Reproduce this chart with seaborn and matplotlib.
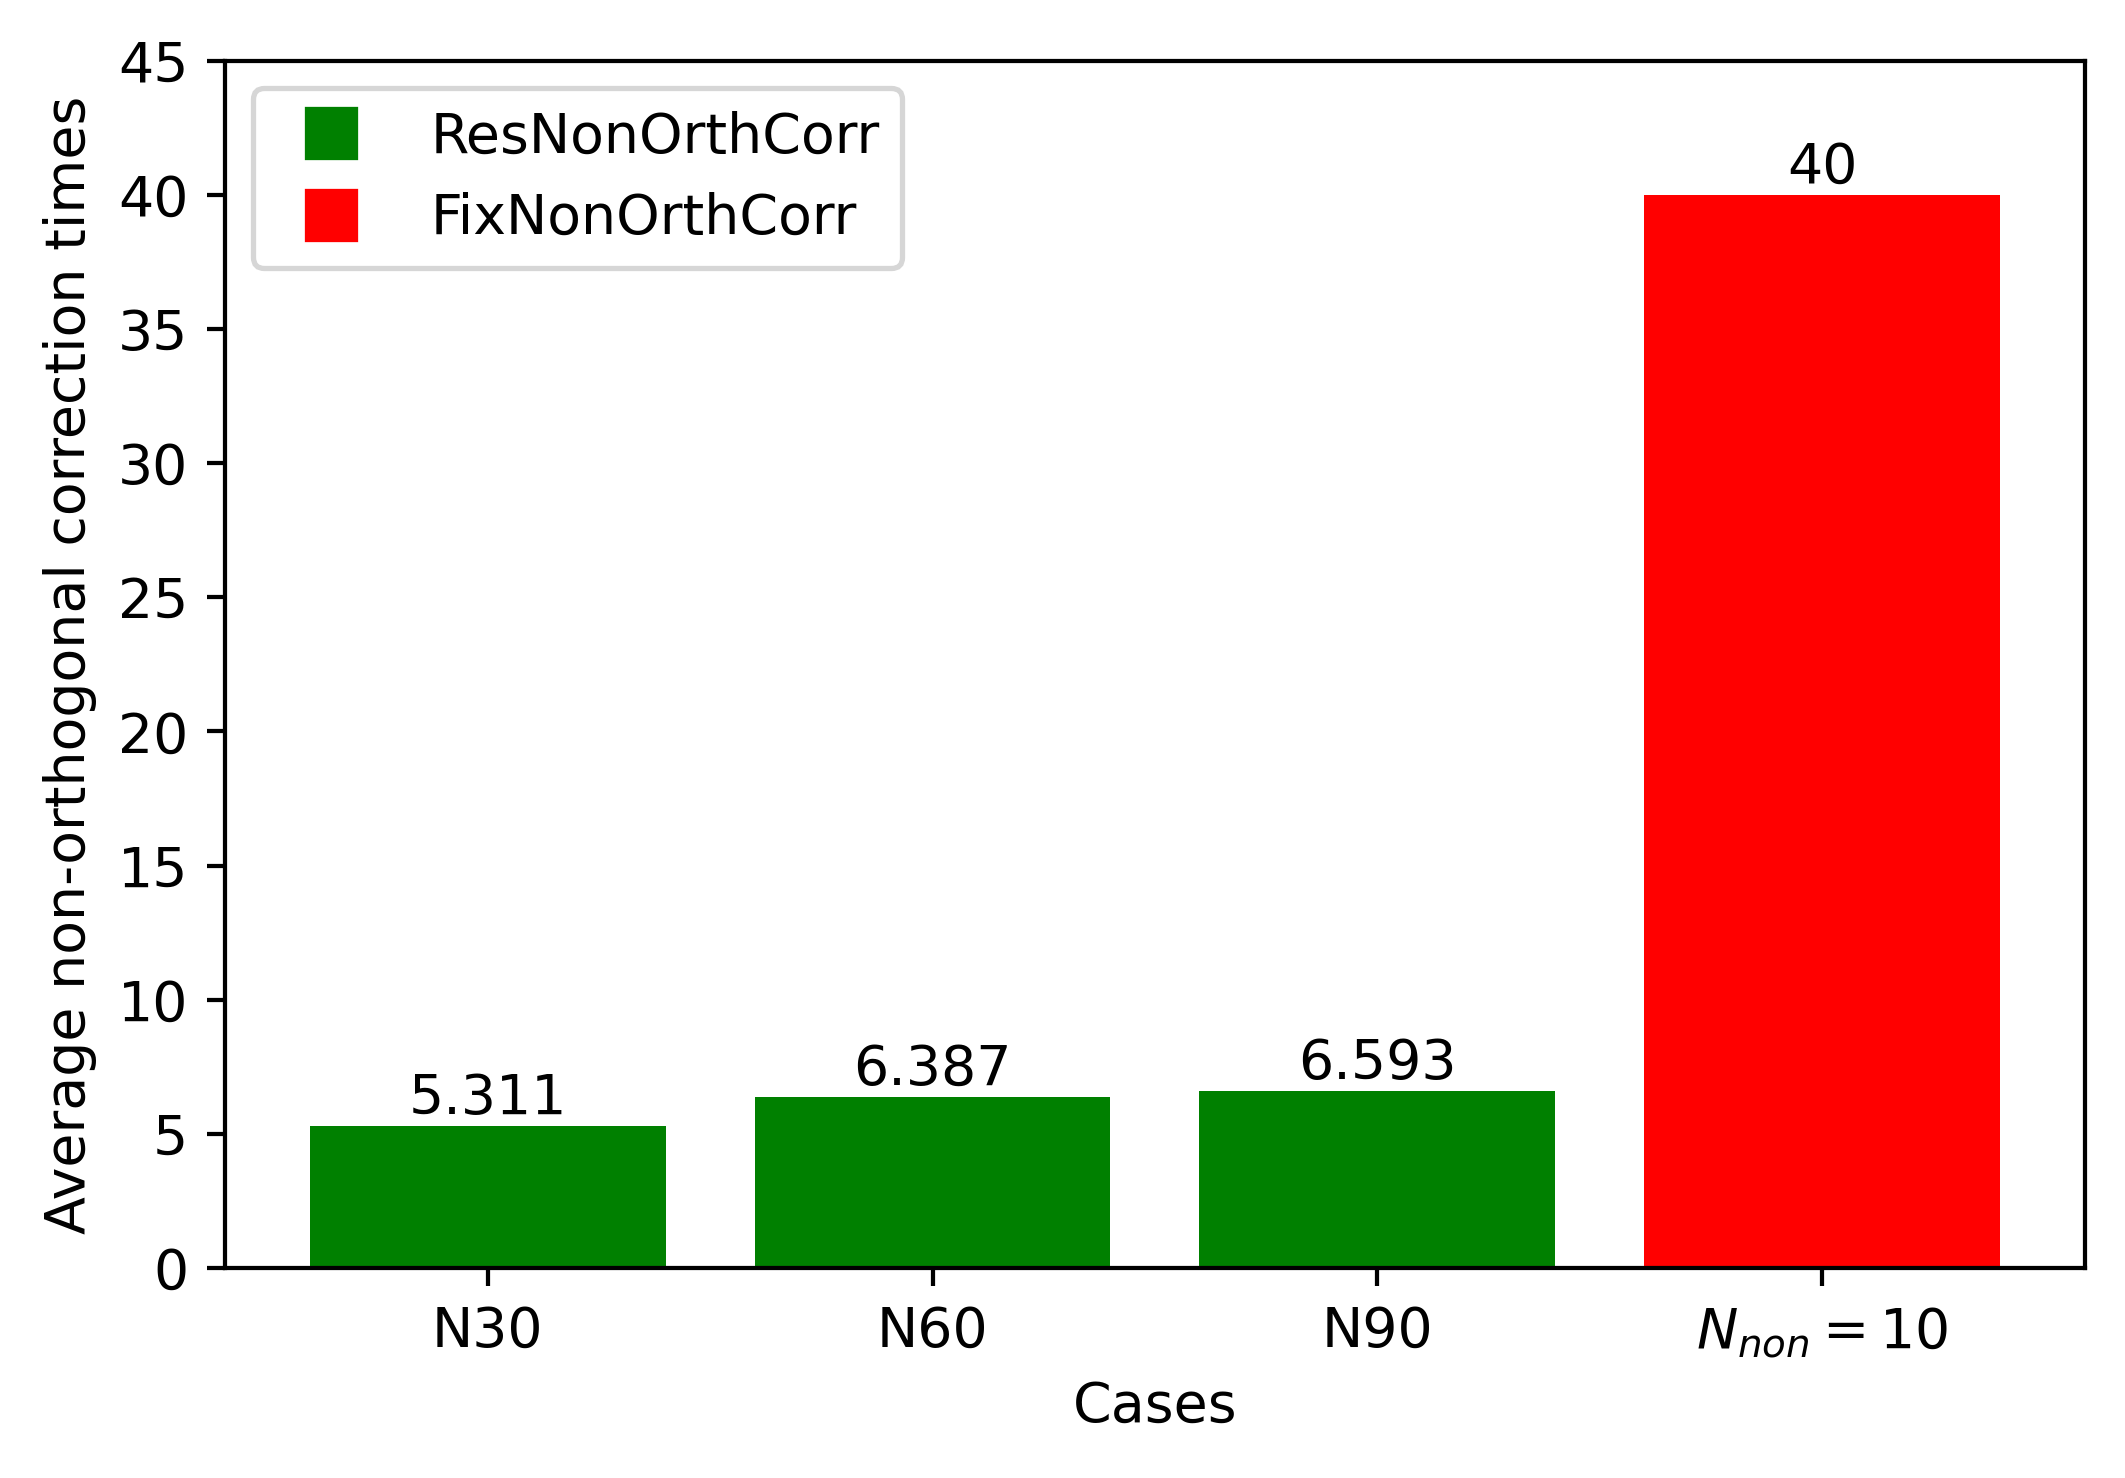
import matplotlib
matplotlib.use("Agg")
import matplotlib.pyplot as plt
from matplotlib.lines import Line2D
import seaborn as sns
import pandas as pd

cases = ["N30", "N60", "N90", r"$N_{non}=10$"]
values = [5.311, 6.387, 6.593, 40]
methods = ["ResNonOrthCorr", "ResNonOrthCorr", "ResNonOrthCorr", "FixNonOrthCorr"]
labels = ["5.311", "6.387", "6.593", "40"]
method_order = ["ResNonOrthCorr", "FixNonOrthCorr"]
palette = {"ResNonOrthCorr": "green", "FixNonOrthCorr": "red"}

df = pd.DataFrame({"Cases": cases, "Value": values, "Method": methods})

plt.rcParams["font.size"] = 10.5

dpi = 380
fig, ax = plt.subplots(figsize=(2125 / dpi, 1478 / dpi), dpi=dpi)
fig.subplots_adjust(left=0.106, right=0.981, top=0.959, bottom=0.142)

sns.barplot(data=df, x="Cases", y="Value", hue="Method", palette=palette,
            dodge=False, width=0.8, saturation=1, ax=ax, order=cases,
            hue_order=method_order, legend=False)

# bar labels
for cont in ax.containers:
    txt = []
    for p in cont:
        h = p.get_height()
        if h != h or h == 0:
            txt.append("")
        else:
            txt.append(labels[values.index(h)] if h in values else f"{h:g}")
    ax.bar_label(cont, labels=txt, fontsize=10.5)

ax.set_ylim(0, 45)
ax.set_yticks(range(0, 46, 5))
ax.set_xlim(-0.59, 3.59)
ax.set_xlabel("Cases")
ax.set_ylabel("Average non-orthogonal correction times")

handles = [Line2D([], [], marker="s", linestyle="none", markersize=9.0,
                  color=palette[m]) for m in method_order]
ax.legend(handles, method_order, loc="upper left", fontsize=10.5)

fig.savefig("out.png", dpi=dpi)
